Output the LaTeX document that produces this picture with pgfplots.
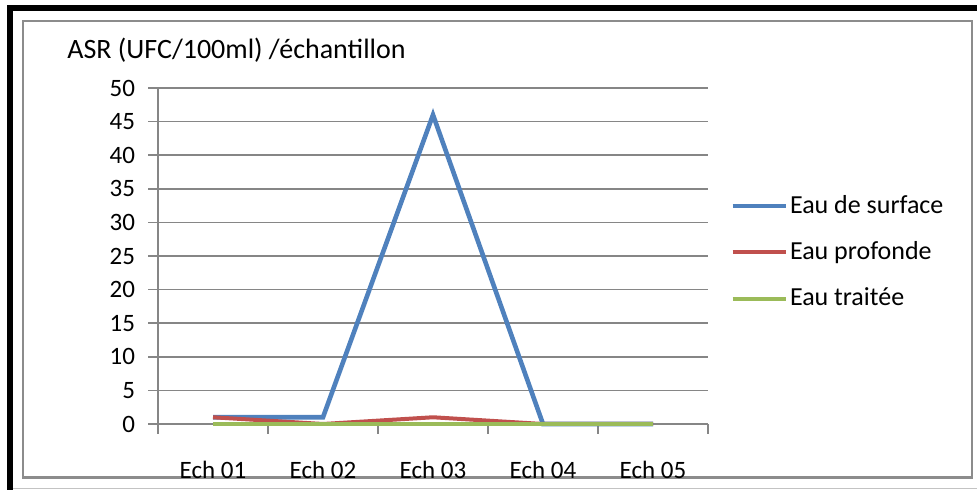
\documentclass[border=0pt]{standalone}
\usepackage{pgfplots}
\pgfplotsset{compat=1.18}
\usepackage{fontspec}
\setmainfont{Carlito}

\definecolor{cSurface}{HTML}{4F81BD}
\definecolor{cProfonde}{HTML}{C0504D}
\definecolor{cTraitee}{HTML}{9BBB59}
\definecolor{gridgray}{HTML}{868686}
\definecolor{framegray}{HTML}{8C8C8C}

\begin{document}
\begin{tikzpicture}
% page frame, drawn in half-point units
\begin{scope}[x=0.5pt,y=0.5pt]
  \path[use as bounding box] (0,0) rectangle (977,490);
  \fill[black] (7,479) rectangle (977,485);
  \fill[black] (7,0) rectangle (13,485);
  \draw[framegray,line width=1.2pt] (23,12.5) rectangle (972,469);
  \draw[gridgray!50,line width=0.8pt] (13,1.5) -- (977,1.5);
  \node[anchor=base west,inner sep=0pt,font=\fontsize{14}{17}\selectfont]
    at (67,431) {ASR (UFC/100ml) /échantillon};
\end{scope}

\begin{axis}[
  at={(79pt,33pt)}, anchor=south west,
  scale only axis, width=275pt, height=168pt,
  xmin=0.5, xmax=5.5, ymin=0, ymax=50,
  clip=false,
  axis lines*=left,
  axis line style={gridgray,line width=0.75pt},
  ytick={0,5,...,50},
  xtick={0.5,1.5,...,5.5},
  xticklabels={},
  extra x ticks={1,2,3,4,5},
  extra x tick labels={Ech 01,Ech 02,Ech 03,Ech 04,Ech 05},
  extra x tick style={major tick length=0pt,
    xticklabel style={anchor=center,yshift=-23pt}},
  tick align=outside,
  major tick length=5pt,
  tick style={gridgray,line width=0.75pt},
  ymajorgrids,
  grid style={gridgray,line width=0.75pt},
  /pgf/number format/assume math mode=true,
  tick label style={font=\fontsize{12.5}{15}\selectfont},
  yticklabel style={xshift=-3pt},
  legend style={at={(1.04,0.687)}, anchor=north west, draw=none, fill=none,
    inner sep=0pt, row sep=10.6pt,
    font=\fontsize{13}{15.6}\selectfont,
    nodes={inner sep=1pt}},
  legend cell align=left,
  legend image code/.code={\draw[#1] (0pt,0pt) -- (26.5pt,0pt);},
]
\addplot[cSurface, line width=2.3pt] coordinates {(1,1) (2,1) (3,46) (4,0) (5,0)};
\addlegendentry{Eau de surface}
\addplot[cProfonde, line width=2pt] coordinates {(1,1) (2,0) (3,1) (4,0) (5,0)};
\addlegendentry{Eau profonde}
\addplot[cTraitee, line width=2pt] coordinates {(1,0) (2,0) (3,0) (4,0) (5,0)};
\addlegendentry{Eau traitée}
\end{axis}
\end{tikzpicture}
\end{document}
